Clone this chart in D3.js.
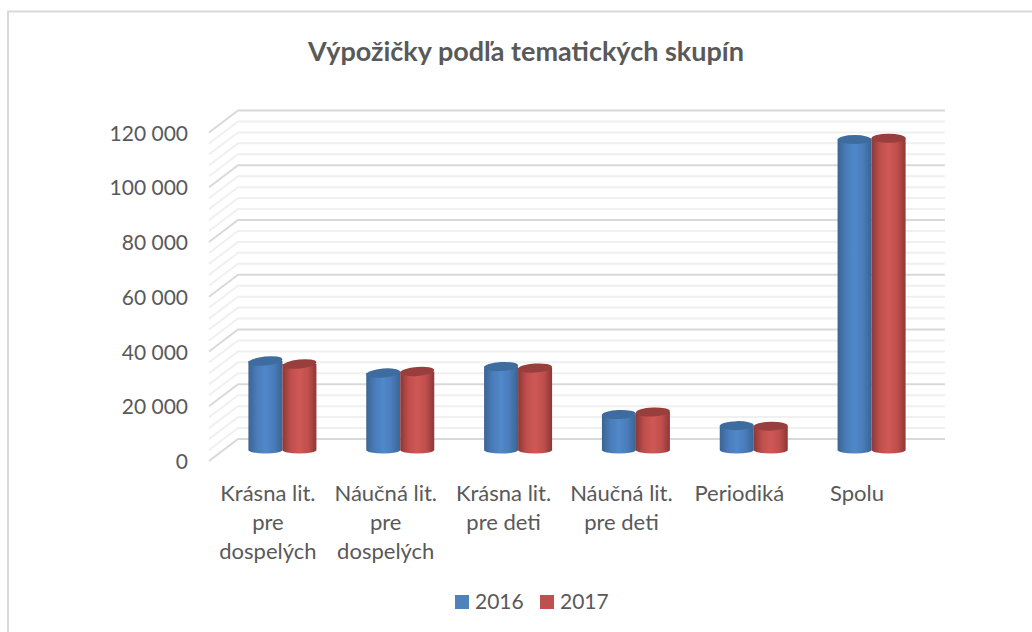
<!DOCTYPE html>
<html>
<head>
<meta charset="utf-8">
<script src="https://cdn.jsdelivr.net/npm/d3@7"></script>
<style>
body { margin: 0; background: #fff; }
text { font-family: Lato, "Open Sans", sans-serif; fill: #595959; }
</style>
</head>
<body>
<svg></svg>
<script>
const categories = [
    ['Krásna lit.', 'pre', 'dospelých'],
    ['Náučná lit.', 'pre', 'dospelých'],
    ['Krásna lit.', 'pre deti'],
    ['Náučná lit.', 'pre deti'],
    ['Periodiká'],
    ['Spolu']
];
const years = ['2016', '2017'];
const values2016 = [32500, 28100, 30500, 12970, 8900, 113400];
const values2017 = [31400, 28700, 29950, 13900, 8700, 113900];
const yTicks = [0, 20000, 40000, 60000, 80000, 100000, 120000];
const minorTicks = d3.range(0, 120001, 4000);

const width = 1032;
const height = 632;
const svg = d3.select('svg').attr('width', width).attr('height', height)
    .style('display', 'block');

const colors = {
    '2016': {side: ['#3a6494', '#4a7cb9', '#5088ca', '#4a7cb9', '#3a6494'], top: '#3f6c9f', key: '#4f81bd'},
    '2017': {side: ['#8c3836', '#c04f4c', '#cf5855', '#c04f4c', '#8c3836'], top: '#983f3d', key: '#c0504d'}
};

// gradients for the cylinder sides
const defs = svg.append('defs');
years.forEach(year => {
    const grad = defs.append('linearGradient').attr('id', 'side' + year);
    grad.selectAll('stop').data(colors[year].side).enter().append('stop')
        .attr('offset', (d, i) => i / 4)
        .attr('stop-color', d => d);
});

svg.append('rect')
    .attr('x', 8).attr('y', 11.5)
    .attr('width', 1040).attr('height', 640)
    .attr('fill', 'none')
    .attr('stroke', '#d9d9d9')
    .attr('stroke-width', 2);

svg.append('text')
    .attr('x', 526).attr('y', 61)
    .attr('text-anchor', 'middle')
    .style('font-size', '27px')
    .style('font-weight', 'bold')
    .text('Výpožičky podľa tematických skupín');

// front plane of the 3d box, depth is how far the back wall is shifted
const depth = {x: 29, y: -22};
const xScale = d3.scaleBand().domain(d3.range(categories.length)).range([209, 916]);
const yScale = d3.scaleLinear().domain([0, 120000]).range([461, 132.5]);

const grid = svg.append('g');
const gridLine = d3.line();
grid.selectAll('path').data(minorTicks).enter().append('path')
    .attr('d', d => gridLine([
        [209, yScale(d)],
        [209 + depth.x, yScale(d) + depth.y],
        [916 + depth.x, yScale(d) + depth.y]
    ]))
    .attr('fill', 'none')
    .attr('stroke', d => d % 20000 === 0 ? '#d9d9d9' : '#f0f0f0')
    .attr('stroke-width', 2);

const locale = d3.formatLocale({decimal: ',', thousands: ' ', grouping: [3], currency: ['', '']});
const yAxis = d3.axisLeft(yScale).tickValues(yTicks).tickSize(0).tickPadding(21)
    .tickFormat(locale.format(','));
const yAxisG = svg.append('g').attr('transform', 'translate(209,0)').call(yAxis);
yAxisG.select('.domain').remove();
yAxisG.selectAll('text').style('font-size', '21px').style('font-family', null).attr('dy', '0.36em');

const barWidth = 34;
const rx = barWidth / 2;
const ry = 4.5;
const ryBottom = 3.5;
const bars = svg.append('g');
categories.forEach((c, i) => {
    const center = xScale(i) + xScale.bandwidth() / 2 + depth.x / 2;
    const tilt = -6 + i * 1.2;
    [values2016, values2017].forEach((series, s) => {
        const year = years[s];
        const left = center + (s - 1) * barWidth;
        const cx = left + rx;
        const base = yScale(0) + depth.y / 2;
        const top = yScale(series[i]) + depth.y / 2;
        const g = bars.append('g');
        g.append('path')
            .attr('d', `M${left},${top}L${left},${base}A${rx},${ryBottom} 0 0 0 ${left + barWidth},${base}L${left + barWidth},${top}Z`)
            .attr('fill', `url(#side${year})`);
        g.append('ellipse')
            .attr('cx', cx).attr('cy', top)
            .attr('rx', rx).attr('ry', ry)
            .attr('transform', `rotate(${tilt},${cx},${top})`)
            .attr('fill', colors[year].top);
    });
});

const labels = svg.append('g');
categories.forEach((c, i) => {
    const t = labels.append('text')
        .attr('text-anchor', 'middle')
        .style('font-size', '22px');
    t.selectAll('tspan').data(c).enter().append('tspan')
        .attr('x', xScale(i) + xScale.bandwidth() / 2)
        .attr('y', (d, k) => 501 + k * 29)
        .text(d => d);
});

const legendX = d3.scalePoint().domain(years).range([455, 540]);
const legend = svg.append('g').selectAll('g').data(years).enter().append('g')
    .attr('transform', d => `translate(${legendX(d)},595)`);
legend.append('rect').attr('width', 14).attr('height', 14).attr('fill', d => colors[d].key);
legend.append('text').attr('x', 20).attr('y', 14).style('font-size', '21px').text(d => d);
</script>
</body>
</html>
